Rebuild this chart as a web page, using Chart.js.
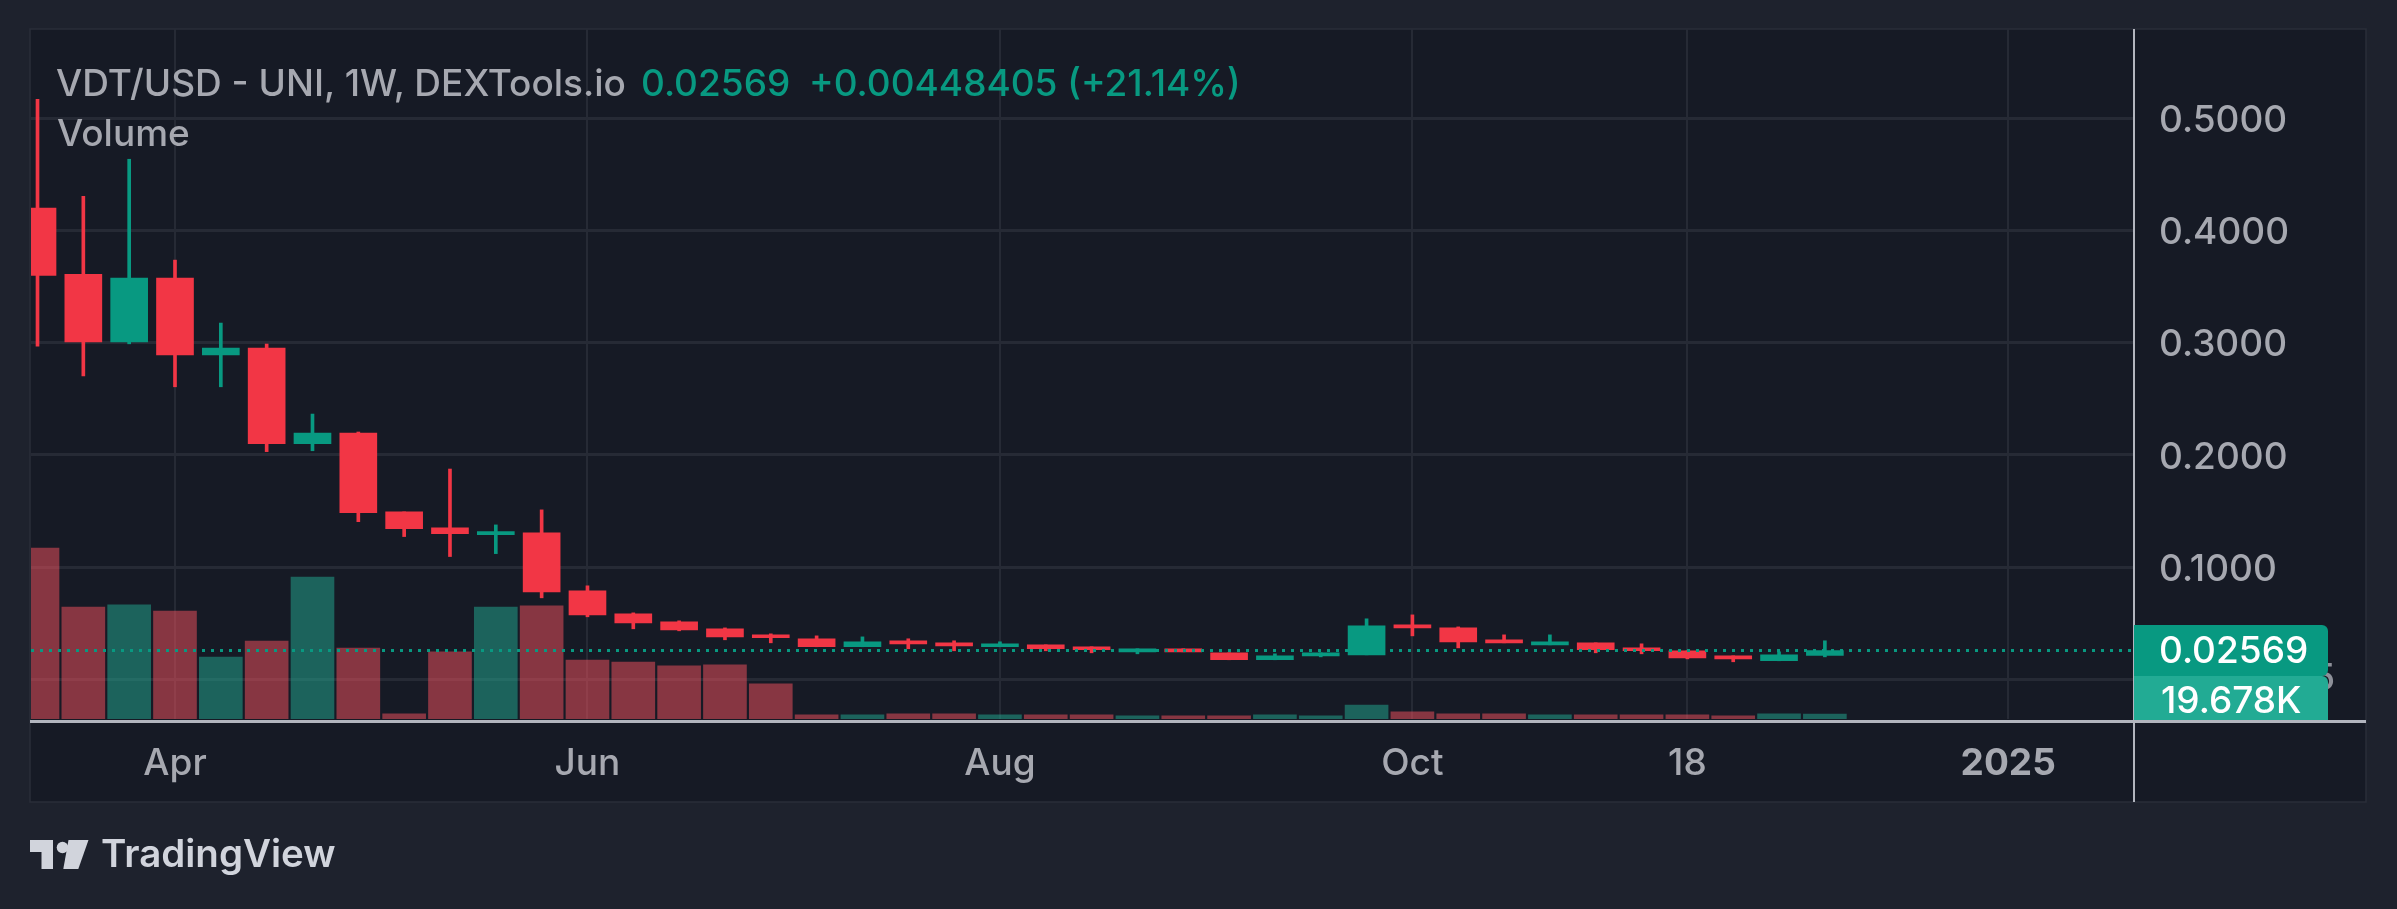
<!DOCTYPE html>
<html>
<head>
<meta charset="utf-8">
<script src="https://cdn.jsdelivr.net/npm/chart.js@4.4.1/dist/chart.umd.min.js"></script>
<style>
  html, body { margin: 0; padding: 0; background: #1e222d; }
  #wrap { position: relative; width: 2397px; height: 909px; overflow: hidden; font-family: Inter, "Noto Sans", sans-serif; }
  canvas { position: absolute; left: 0; top: 0; }
  .lbl { position: absolute; white-space: nowrap; font-size: 37px; line-height: 44px; font-weight: 500; }
</style>
</head>
<body>
<div id="wrap">
  <canvas id="chart" width="2397" height="909"></canvas>
  <div class="lbl" style="left:56px; top:61px; color:#a6a8b0;">VDT/USD - UNI, 1W, DEXTools.io</div>
  <div class="lbl" style="left:641px; top:61px; color:#089981;">0.02569</div>
  <div class="lbl" style="left:809px; top:61px; color:#089981;">+0.00448405 (+21.14%)</div>
  <div class="lbl" style="left:57px; top:111px; color:#a6a8b0;">Volume</div>
  <svg style="position:absolute; left:0; top:0;" width="100" height="909">
    <path d="M30 840 H53 V869 H41.5 V852 H30 Z" fill="#d1d4dc"/>
    <circle cx="62.5" cy="847.5" r="5.8" fill="#d1d4dc"/>
    <path d="M68.5 840 H88.5 L78.3 869 H63.3 Z" fill="#d1d4dc"/>
  </svg>
  <div class="lbl" style="left:101px; top:830px; font-size:38.5px; line-height:46px; font-weight:600; color:#d1d4dc;">TradingView</div>
</div>
<script>
// weekly candles, VDT/USD
const weekStarts = ['Mar 11','Mar 18','Mar 25','Apr 1','Apr 8','Apr 15','Apr 22','Apr 29','May 6','May 13',
  'May 20','May 27','Jun 3','Jun 10','Jun 17','Jun 24','Jul 1','Jul 8','Jul 15','Jul 22',
  'Jul 29','Aug 5','Aug 12','Aug 19','Aug 26','Sep 2','Sep 9','Sep 16','Sep 23','Sep 30',
  'Oct 7','Oct 14','Oct 21','Oct 28','Nov 4','Nov 11','Nov 18','Nov 25','Dec 2','Dec 9'];

const opens = [0.4200, 0.3610, 0.3008, 0.3575, 0.2892, 0.2952, 0.2100, 0.2195, 0.1492, 0.1349,
  0.1289, 0.1305, 0.0788, 0.0583, 0.0512, 0.0450, 0.0396, 0.0361, 0.0290, 0.0343,
  0.0325, 0.0290, 0.0307, 0.0290, 0.0245, 0.0272, 0.0236, 0.0174, 0.0209, 0.0218,
  0.0485, 0.0458, 0.0352, 0.0307, 0.0325, 0.0280, 0.0254, 0.0209, 0.0165, 0.0212];
const highs = [0.5170, 0.4305, 0.4635, 0.3736, 0.3175, 0.2988, 0.2364, 0.2204, 0.1492, 0.1874,
  0.1376, 0.1510, 0.0833, 0.0592, 0.0521, 0.0458, 0.0405, 0.0387, 0.0378, 0.0361,
  0.0343, 0.0334, 0.0307, 0.0290, 0.0272, 0.0272, 0.0236, 0.0227, 0.0236, 0.0539,
  0.0574, 0.0467, 0.0396, 0.0396, 0.0325, 0.0316, 0.0254, 0.0209, 0.0245, 0.0343];
const lows = [0.2970, 0.2705, 0.2990, 0.2607, 0.2607, 0.2029, 0.2037, 0.1405, 0.1272, 0.1094,
  0.1120, 0.0726, 0.0557, 0.0450, 0.0432, 0.0352, 0.0325, 0.0290, 0.0290, 0.0272,
  0.0254, 0.0290, 0.0254, 0.0236, 0.0227, 0.0245, 0.0174, 0.0174, 0.0200, 0.0218,
  0.0387, 0.0280, 0.0325, 0.0307, 0.0236, 0.0227, 0.0182, 0.0156, 0.0165, 0.0200];
const closes = [0.3600, 0.3008, 0.3575, 0.2892, 0.2952, 0.2100, 0.2195, 0.1485, 0.1343, 0.1298,
  0.1313, 0.0779, 0.0574, 0.0503, 0.0441, 0.0378, 0.0370, 0.0290, 0.0334, 0.0316,
  0.0298, 0.0316, 0.0272, 0.0263, 0.0272, 0.0245, 0.0174, 0.0209, 0.0236, 0.0476,
  0.0458, 0.0334, 0.0325, 0.0334, 0.0263, 0.0254, 0.0191, 0.0182, 0.0218, 0.02569];
// volume in thousands
const volumes = [673, 441, 449, 425, 244, 307, 559, 279, 20, 264,
  441, 445, 232, 224, 209, 213, 138, 16, 16, 20,
  20, 16, 16, 16, 12, 12, 12, 16, 12, 55,
  28, 20, 20, 16, 16, 16, 16, 12, 20, 19.678];

const tickWeeks = [3, 12, 21, 30, 36, 43];
const tickLabels = ['Apr', 'Jun', 'Aug', 'Oct', '18', '2025'];
const priceTicks = [0, 0.1, 0.2, 0.3, 0.4, 0.5];

const upColor = '#089981';
const downColor = '#f23645';
const xMin = -0.142, xMax = 45.745;
const yMin = -0.0354, yMax = 0.5796;
const volMax = 2716;
const lastClose = closes[closes.length - 1];
const lastVolume = volumes[volumes.length - 1];

const candleColors = closes.map((c, i) => c >= opens[i] ? upColor : downColor);
const volColors = closes.map((c, i) => c >= opens[i] ? 'rgba(34,171,148,0.5)' : 'rgba(247,82,95,0.5)');

// no extra label padding around the plot
function noPad(s) {
  s.paddingTop = 0; s.paddingBottom = 0; s.paddingLeft = 0; s.paddingRight = 0;
}

const paneBox = {
  id: 'paneBox',
  beforeDraw(chart) {
    const c = chart.ctx;
    c.save();
    c.fillStyle = '#161a25';
    c.fillRect(30, 29, 2336, 773);
    c.strokeStyle = '#2a2e39';
    c.lineWidth = 1.5;
    c.strokeRect(30, 29, 2336, 773);
    c.restore();
  },
  afterDraw(chart) {
    const c = chart.ctx;
    const area = chart.chartArea;
    const y = chart.scales.y.getPixelForValue(lastClose);
    c.save();
    // axis lines
    c.fillStyle = '#b2b5be';
    c.fillRect(30, area.bottom + 1, 2336, 3);
    c.fillRect(area.right - 1, 29, 2, 773);
    // partly hidden label behind the boxes
    c.font = '500 37px Inter';
    c.fillStyle = '#8d9099';
    c.textAlign = 'right';
    c.textBaseline = 'middle';
    c.fillText('5', 2335, 679);
    // last price box
    c.fillStyle = upColor;
    c.beginPath();
    c.roundRect(area.right, y - 25.5, 194, 51, [0, 6, 6, 0]);
    c.fill();
    // volume box
    c.fillStyle = '#22ab94';
    c.beginPath();
    c.roundRect(area.right, y + 25.5, 194, area.bottom + 1 - (y + 25.5), [0, 6, 0, 0]);
    c.fill();
    c.fillStyle = '#ffffff';
    c.textAlign = 'left';
    c.fillText(lastClose.toFixed(5), 2159, y + 1);
    c.fillText(lastVolume.toFixed(3) + 'K', 2161, y + 51);
    c.restore();
  }
};

const ctx = document.getElementById('chart').getContext('2d');
new Chart(ctx, {
  type: 'bar',
  data: {
    datasets: [
      {
        type: 'line',
        label: 'last',
        data: [{ x: xMin, y: lastClose }, { x: xMax, y: lastClose }],
        borderColor: upColor,
        borderWidth: 3,
        borderDash: [3, 6],
        pointRadius: 0,
        order: 0,
        yAxisID: 'y'
      },
      {
        label: 'body',
        data: opens.map((o, i) => ({ x: i, y: [o, closes[i]] })),
        backgroundColor: candleColors,
        barThickness: 37,
        minBarLength: 3,
        grouped: false,
        order: 1,
        yAxisID: 'y'
      },
      {
        label: 'wick',
        data: lows.map((l, i) => ({ x: i, y: [l, highs[i]] })),
        backgroundColor: candleColors,
        barThickness: 3,
        grouped: false,
        order: 2,
        yAxisID: 'y'
      },
      {
        label: 'volume',
        data: volumes.map((v, i) => ({ x: i, y: v })),
        backgroundColor: volColors,
        barThickness: 43,
        grouped: false,
        order: 3,
        yAxisID: 'yv'
      }
    ]
  },
  options: {
    responsive: false,
    devicePixelRatio: 1,
    animation: false,
    layout: { padding: { left: 31, top: 29, right: 31, bottom: 107 } },
    plugins: { legend: { display: false }, tooltip: { enabled: false } },
    scales: {
      x: {
        type: 'linear',
        min: xMin,
        max: xMax,
        offset: false,
        afterBuildTicks: s => { s.ticks = tickWeeks.map(v => ({ value: v })); },
        afterFit: s => { s.height = 83; noPad(s); },
        ticks: {
          autoSkip: false,
          maxRotation: 0,
          padding: 23,
          color: '#a6a8b0',
          font: c => ({ family: 'Inter', size: 37, weight: tickLabels[c.index] === '2025' ? '700' : '500' }),
          callback: (v, i) => tickLabels[i]
        },
        grid: { color: '#262a35', lineWidth: 2, drawTicks: false, offset: false },
        border: { display: false }
      },
      y: {
        position: 'right',
        min: yMin,
        max: yMax,
        afterBuildTicks: s => { s.ticks = priceTicks.map(v => ({ value: v })); },
        afterFit: s => { s.width = 232; noPad(s); },
        ticks: {
          padding: 25,
          labelOffset: 2.5,
          color: '#a6a8b0',
          font: { family: 'Inter', size: 37, weight: '500' },
          callback: v => v.toFixed(4)
        },
        grid: { color: '#262a35', lineWidth: 3, drawTicks: false },
        border: { display: false }
      },
      yv: { display: false, min: 0, max: volMax }
    }
  },
  plugins: [paneBox]
});
</script>
</body>
</html>
